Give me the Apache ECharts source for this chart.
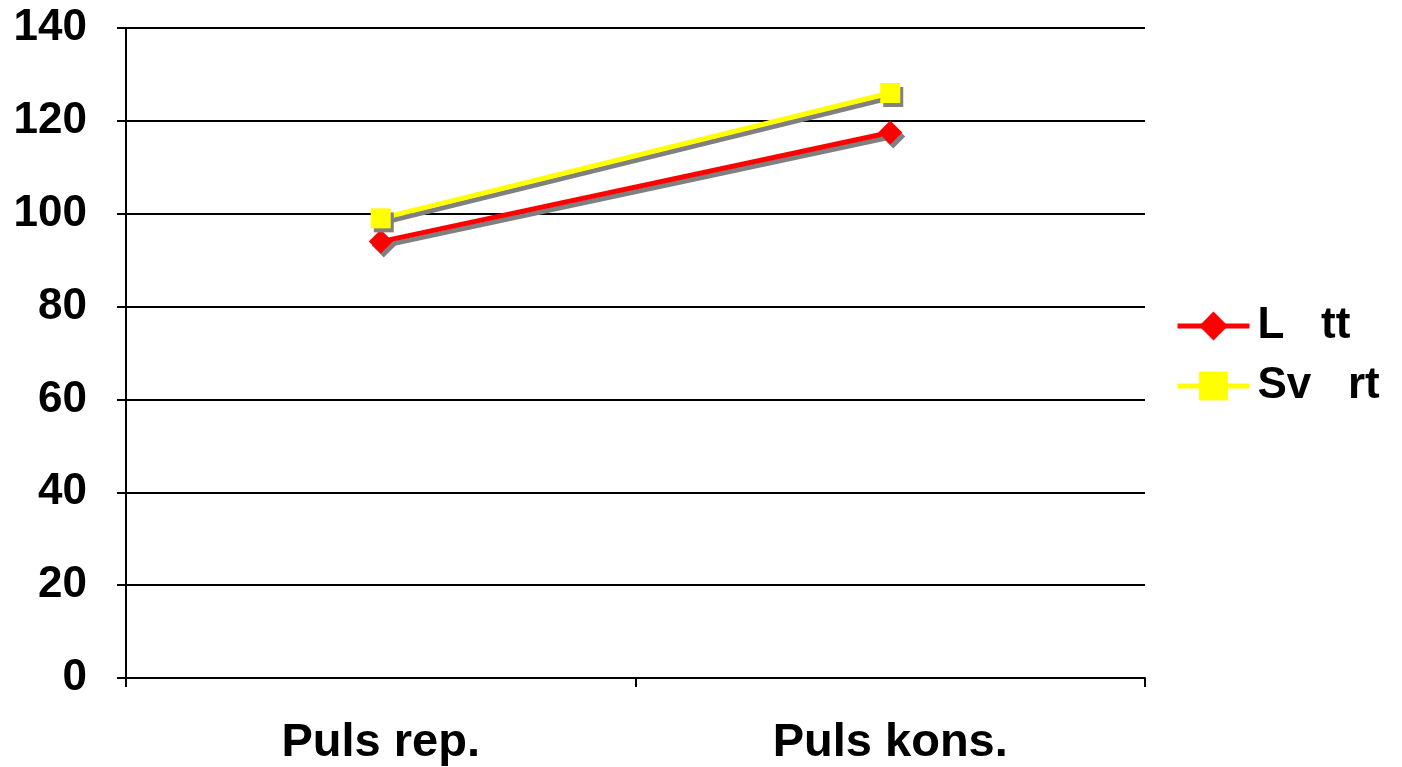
<!DOCTYPE html>
<html><head><meta charset="utf-8">
<script src="https://cdn.jsdelivr.net/npm/echarts@6/dist/echarts.min.js"></script>
<style>html,body{margin:0;padding:0;background:#fff}#c{width:1402px;height:767px}</style>
</head><body><div id="c"></div>
<script>
const categories = ["Puls rep.", "Puls kons."];
const seriesNames = ["L   tt", "Sv   rt"];
const lattValues = [94, 117.5];
const svartValues = [99, 126];
const yTicks = { min: 0, max: 140, interval: 20 };

const chart = echarts.init(document.getElementById('c'), null, { renderer: 'canvas' });
const font = '"Liberation Sans", Arial, sans-serif';
const shadow = { shadowColor: '#808080', shadowOffsetX: 3, shadowOffsetY: 4, shadowBlur: 0 };
const noShadow = { shadowColor: 'rgba(0,0,0,0)', shadowBlur: 0, shadowOffsetX: 0, shadowOffsetY: 0 };
chart.setOption({
  animation: false,
  backgroundColor: '#ffffff',
  grid: { left: 126, right: 257, top: 28, bottom: 89, containLabel: false },
  legend: {
    orient: 'vertical', left: 1170, top: 298,
    itemWidth: 72, itemHeight: 36, itemGap: 14,
    textStyle: { fontFamily: font, fontWeight: 'bold', fontSize: 44, color: '#000', lineHeight: 46, padding: [0,0,0,3] },
    itemStyle: noShadow,
    lineStyle: Object.assign({ width: 5 }, noShadow),
    data: seriesNames
  },
  xAxis: {
    type: 'category', data: categories, boundaryGap: true,
    axisLine: { show: true, lineStyle: { color: '#000', width: 2 } },
    axisTick: { show: true, length: 9, lineStyle: { color: '#000', width: 2 } },
    axisLabel: { fontFamily: font, fontWeight: 'bold', fontSize: 47, color: '#000', margin: 42 },
    splitLine: { show: false }
  },
  yAxis: {
    type: 'value', min: yTicks.min, max: yTicks.max, interval: yTicks.interval,
    axisLine: { show: true, lineStyle: { color: '#000', width: 2 } },
    axisTick: { show: true, length: 9, lineStyle: { color: '#000', width: 2 } },
    axisLabel: { fontFamily: font, fontWeight: 'bold', fontSize: 44, color: '#000', margin: 39 },
    splitLine: { show: true, lineStyle: { color: '#000', width: 2 } }
  },
  series: [
    { name: seriesNames[0], type: 'line', data: lattValues,
      symbol: 'diamond', symbolSize: 24,
      itemStyle: Object.assign({ color: '#FF0000' }, shadow),
      lineStyle: Object.assign({ color: '#FF0000', width: 5 }, shadow) },
    { name: seriesNames[1], type: 'line', data: svartValues,
      symbol: 'rect', symbolSize: 20,
      itemStyle: Object.assign({ color: '#FFFF00' }, shadow),
      lineStyle: Object.assign({ color: '#FFFF00', width: 5 }, shadow) }
  ]
});
</script></body></html>
